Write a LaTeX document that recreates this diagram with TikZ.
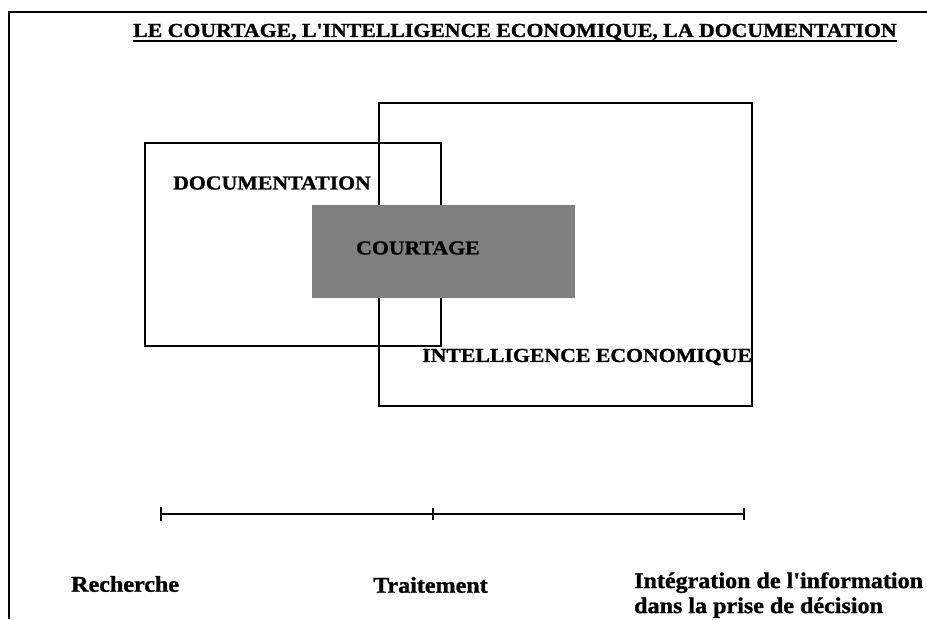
\documentclass[tikz,border=0pt]{standalone}
\usepackage{fontspec}
\setmainfont{Liberation Serif}
\newfontfamily\capsfont[FakeStretch=1.1, FakeBold=1.2]{Liberation Serif}
\newfontfamily\labfont[FakeStretch=1.07, FakeBold=1.2]{Liberation Serif}
\begin{document}
\begin{tikzpicture}[x=1pt,y=-1pt,
  boxline/.style={draw=black, line width=1.8pt, inner sep=0pt},
  capstext/.style={font=\capsfont\bfseries\fontsize{19.8}{23}\selectfont, inner sep=0pt, anchor=west},
  labtext/.style={font=\labfont\bfseries\fontsize{22.5}{25}\selectfont, inner sep=0pt, anchor=west, align=left},
  axisline/.style={line width=2pt},
  tickline/.style={line width=1.4pt},
  frameline/.style={line width=1.4pt}]
\useasboundingbox (0,0) rectangle (927,619);
% frame
\coordinate (fr1) at (9,619);
\coordinate (fr2) at (9,12);
\coordinate (fr3) at (927,12);
\draw[frameline] (fr1) -- (fr2) -- (fr3);
% title
\node[capstext] (title) at (133,32) {LE COURTAGE, L'INTELLIGENCE ECONOMIQUE, LA DOCUMENTATION};
\draw[line width=1.8pt] ([yshift=-4pt]title.base west) -- ([yshift=-4pt]title.base east);
% boxes
\node[boxline, minimum width=373pt, minimum height=303pt] (ie) at (565.5,254.5) {};
\node[boxline, minimum width=296pt, minimum height=203pt] (doc) at (293,244.5) {};
\node[fill=black!50, inner sep=0pt, minimum width=263pt, minimum height=93pt] (crt) at (443.5,251.5) {};
% labels
\node[capstext] (doct) at (173,183) {DOCUMENTATION};
\node[capstext] (crtt) at (356,248) {COURTAGE};
\node[capstext] (iet) at (422,357) {INTELLIGENCE ECONOMIQUE};
% axis
\coordinate (ar) at (161,514);
\coordinate (at) at (433,514);
\coordinate (ai) at (744,514);
\draw[axisline] (ar) -- (at) -- (ai);
\draw[tickline] ([yshift=-7pt]ar) -- ([yshift=7pt]ar);
\draw[tickline] ([yshift=-6pt]at) -- ([yshift=6pt]at);
\draw[tickline] ([yshift=-6pt]ai) -- ([yshift=6pt]ai);
\node[labtext] (lr) at (71,584) {Recherche};
\node[labtext] (lt) at (373,585) {Traitement};
\node[labtext, anchor=north west] (li) at (634,572) {Intégration de l'information\\dans la prise de décision};
\end{tikzpicture}
\end{document}
